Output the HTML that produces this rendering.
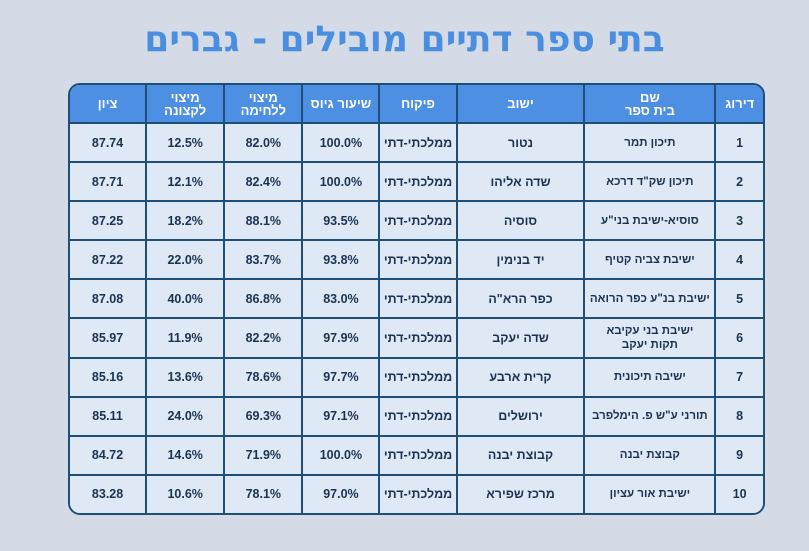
<!DOCTYPE html>
<html><head><meta charset="utf-8"><style>
body{margin:0;width:809px;height:551px;background:#d4dbe7;font-family:"Liberation Sans","Noto Sans CJK SC",sans-serif;position:relative;overflow:hidden}
h1{position:absolute;top:19px;left:0;width:809px;text-align:center;margin:0;font-size:36px;color:#4a8ee0;font-weight:bold;direction:rtl;font-family:"DejaVu Sans","Liberation Sans",sans-serif}
table{position:absolute;left:68px;top:83px;width:697px;height:432px;border-collapse:separate;border-spacing:0;border:2px solid #1f4f78;border-radius:12px;overflow:hidden;direction:rtl;box-sizing:border-box;table-layout:fixed}
td,th{border-left:2px solid #1f4f78;border-bottom:2px solid #1f4f78;text-align:center;font-size:12.5px;color:#1c3350;font-weight:bold;padding:0}
tr td:last-child,tr th:last-child{border-left:none}
tr:last-child td{border-bottom:none}
th{background:#4d8fe2;color:#fff;height:37px;font-size:13px;line-height:13px}
td{background:#dfe8f5;height:37px;line-height:14px}
td:nth-child(2){font-size:11.5px;white-space:nowrap}
</style></head><body>
<h1>בתי ספר דתיים מובילים - גברים</h1>
<table>
<colgroup><col style="width:48px"><col style="width:129px"><col style="width:126px"><col style="width:76px"><col style="width:76px"><col style="width:77px"><col style="width:77px"><col style="width:74px"></colgroup>
<tr><th>דירוג</th><th>שם<br>בית ספר</th><th>ישוב</th><th>פיקוח</th><th>שיעור גיוס</th><th>מיצוי<br>ללחימה</th><th>מיצוי<br>לקצונה</th><th>ציון</th></tr>
<tr><td>1</td><td>תיכון תמר</td><td>נטור</td><td>ממלכתי-דתי</td><td>100.0%</td><td>82.0%</td><td>12.5%</td><td>87.74</td></tr>
<tr><td>2</td><td>תיכון שק"ד דרכא</td><td>שדה אליהו</td><td>ממלכתי-דתי</td><td>100.0%</td><td>82.4%</td><td>12.1%</td><td>87.71</td></tr>
<tr><td>3</td><td>סוסיא-ישיבת בני"ע</td><td>סוסיה</td><td>ממלכתי-דתי</td><td>93.5%</td><td>88.1%</td><td>18.2%</td><td>87.25</td></tr>
<tr><td>4</td><td>ישיבת צביה קטיף</td><td>יד בנימין</td><td>ממלכתי-דתי</td><td>93.8%</td><td>83.7%</td><td>22.0%</td><td>87.22</td></tr>
<tr><td>5</td><td>ישיבת בנ"ע כפר הרואה</td><td>כפר הרא"ה</td><td>ממלכתי-דתי</td><td>83.0%</td><td>86.8%</td><td>40.0%</td><td>87.08</td></tr>
<tr><td>6</td><td>ישיבת בני עקיבא<br>תקות יעקב</td><td>שדה יעקב</td><td>ממלכתי-דתי</td><td>97.9%</td><td>82.2%</td><td>11.9%</td><td>85.97</td></tr>
<tr><td>7</td><td>ישיבה תיכונית</td><td>קרית ארבע</td><td>ממלכתי-דתי</td><td>97.7%</td><td>78.6%</td><td>13.6%</td><td>85.16</td></tr>
<tr><td>8</td><td>תורני ע"ש פ. הימלפרב</td><td>ירושלים</td><td>ממלכתי-דתי</td><td>97.1%</td><td>69.3%</td><td>24.0%</td><td>85.11</td></tr>
<tr><td>9</td><td>קבוצת יבנה</td><td>קבוצת יבנה</td><td>ממלכתי-דתי</td><td>100.0%</td><td>71.9%</td><td>14.6%</td><td>84.72</td></tr>
<tr><td>10</td><td>ישיבת אור עציון</td><td>מרכז שפירא</td><td>ממלכתי-דתי</td><td>97.0%</td><td>78.1%</td><td>10.6%</td><td>83.28</td></tr>
</table>
</body></html>
